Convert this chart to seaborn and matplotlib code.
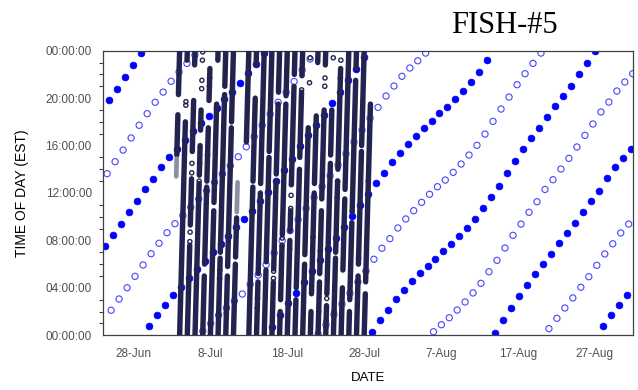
import pandas as pd
import matplotlib
matplotlib.use("Agg")
import matplotlib.pyplot as plt
import matplotlib.dates as mdates
from matplotlib.ticker import MultipleLocator, FuncFormatter
import seaborn as sns

START = pd.Timestamp("2005-06-24")

# High tides: day offset from START and time of day (hours, EST)
high_day = [0, 0, 1, 1, 2, 2, 3, 3, 4, 4, 5, 6, 6, 7, 7, 8, 8, 9, 9, 10, 10,
            11, 11, 12, 12, 13, 13, 14, 14, 15, 15, 16, 16, 17, 17, 18, 18,
            19, 19, 20, 20, 21, 22, 22, 23, 23, 24, 24, 25, 25, 26, 26, 27, 27,
            28, 28, 29, 29, 30, 30, 31, 31, 32, 32, 33, 33, 34, 35, 35, 36, 36,
            37, 37, 38, 38, 39, 39, 40, 40, 41, 41, 42, 42, 43, 43, 44, 44, 45,
            45, 46, 46, 47, 47, 48, 48, 49, 49, 50, 51, 51, 52, 52, 53, 53, 54,
            54, 55, 55, 56, 56, 57, 57, 58, 58, 59, 59, 60, 60, 61, 61, 62, 62,
            63, 63, 64, 65, 65, 66, 66, 67, 67, 68, 68]
high_hour = [7.53, 19.84, 8.46, 20.78, 9.41, 21.78, 10.40, 22.79, 11.35, 23.78,
             12.36, 0.76, 13.20, 1.69, 14.19, 2.58, 15.00, 3.40, 15.70, 4.10,
             16.50, 4.85, 17.25, 5.59, 17.88, 6.30, 18.50, 7.00, 19.20, 7.70,
             19.90, 8.40, 20.50, 9.10, 21.25, 9.78, 22.09, 10.50, 22.88, 11.30,
             23.78, 12.10, 0.73, 13.00, 1.71, 13.90, 2.70, 14.90, 3.60, 15.96,
             4.50, 16.90, 5.40, 17.73, 6.35, 18.60, 7.30, 19.56, 8.20, 20.54,
             9.16, 21.50, 10.06, 22.43, 11.00, 23.44, 11.90, 0.30, 12.82, 1.26,
             13.69, 2.16, 14.59, 3.04, 15.40, 3.82, 16.10, 4.58, 16.80, 5.23,
             17.45, 5.84, 18.09, 6.46, 18.71, 7.08, 19.27, 7.70, 19.92, 8.35,
             20.62, 9.05, 21.35, 9.81, 22.22, 10.71, 23.21, 11.64, 0.17, 12.61,
             1.26, 13.68, 2.30, 14.72, 3.31, 15.71, 4.27, 16.61, 5.14, 17.50,
             6.04, 18.41, 6.88, 19.31, 7.76, 20.18, 8.63, 21.05, 9.49, 22.01,
             10.42, 22.93, 11.32, 23.97, 12.19, 0.78, 13.29, 1.71, 14.17, 2.55,
             14.97, 3.37, 15.71]

# Low tides
low_day = [0, 1, 1, 2, 2, 3, 3, 4, 4, 5, 5, 6, 6, 7, 7, 8, 8, 9, 9, 10, 10,
           11, 11, 12, 13, 13, 14, 14, 15, 15, 16, 16, 17, 17, 18, 18, 19, 19,
           20, 20, 21, 21, 22, 22, 23, 23, 24, 24, 25, 25, 26, 26, 27, 28, 28,
           29, 29, 30, 30, 31, 31, 32, 32, 33, 33, 34, 34, 35, 35, 36, 36, 37,
           37, 38, 38, 39, 39, 40, 40, 41, 41, 42, 43, 43, 44, 44, 45, 45, 46,
           46, 47, 47, 48, 48, 49, 49, 50, 50, 51, 51, 52, 52, 53, 53, 54, 54,
           55, 55, 56, 56, 57, 58, 58, 59, 59, 60, 60, 61, 61, 62, 62, 63, 63,
           64, 64, 65, 65, 66, 66, 67, 67, 68, 68]
low_hour = [13.63, 2.11, 14.64, 3.06, 15.62, 4.01, 16.64, 4.97, 17.71, 5.93,
            18.69, 6.88, 19.65, 7.76, 20.51, 8.65, 21.42, 9.41, 22.20, 10.10,
            22.93, 10.80, 23.63, 11.50, 0.35, 12.20, 1.00, 12.90, 1.70, 13.60,
            2.30, 14.30, 2.90, 15.06, 3.48, 15.90, 4.30, 16.75, 5.08, 17.70,
            5.95, 18.66, 6.95, 19.65, 7.98, 20.49, 8.82, 21.40, 9.75, 22.37,
            10.70, 23.30, 11.64, 0.11, 12.55, 0.87, 13.45, 1.75, 14.35, 2.64,
            15.30, 3.55, 16.30, 4.50, 17.30, 5.42, 18.30, 6.41, 19.22, 7.34,
            20.18, 8.15, 21.02, 9.05, 21.84, 9.81, 22.54, 10.51, 23.15, 11.21,
            23.80, 11.89, 0.30, 12.53, 0.89, 13.09, 1.48, 13.74, 2.13, 14.44,
            2.81, 15.20, 3.57, 16.02, 4.38, 16.97, 5.36, 18.04, 6.32, 19.08,
            7.36, 20.09, 8.43, 21.13, 9.38, 22.06, 10.37, 22.93, 11.26, 23.80,
            12.30, 0.56, 13.12, 1.43, 14.02, 2.30, 14.92, 3.15, 15.88, 4.05,
            16.86, 4.94, 17.82, 5.90, 18.83, 6.86, 19.67, 7.72, 20.60, 8.63,
            21.36, 9.38, 22.06]

# Continuous detection bouts of the tagged fish: day, start hour, end hour
bout_day = [9, 9,
            10, 10,
            11, 11, 11, 11,
            12, 12, 12,
            13, 13, 13, 13,
            14, 14, 14,
            15, 15, 15,
            16, 16, 16,
            17, 17,
            18,
            19, 19, 19,
            20, 20, 20,
            21, 21, 21,
            22, 22, 22, 22,
            23, 23, 23, 23,
            24, 24, 24, 24,
            25, 25, 25, 25,
            26, 26,
            27, 27, 27, 27,
            28, 28, 28, 28,
            29, 29, 29,
            30, 30, 30,
            31, 31, 31,
            32, 32, 32, 32,
            33, 33, 33,
            34, 34]
bout_start = [15.2, 20.3,
              0.0, 23.2,
              0.0, 9.3, 15.5, 22.8,
              0.0, 13.5, 17.3,
              0.0, 6.0, 13.0, 19.8,
              0.0, 11.2, 23.2,
              0.0, 7.0, 21.0,
              0.0, 5.8, 18.0,
              0.0, 6.6,
              16.3,
              0.0, 13.0, 22.8,
              0.0, 5.2, 12.8,
              0.0, 6.2, 15.5,
              0.0, 5.6, 13.6, 20.5,
              0.0, 3.0, 8.5, 20.2,
              0.0, 8.8, 12.8, 22.0,
              0.0, 4.0, 15.0, 22.0,
              0.0, 6.8,
              0.0, 3.5, 12.8, 23.0,
              0.0, 5.2, 11.5, 22.8,
              0.0, 3.5, 15.2,
              0.0, 7.0, 14.0,
              0.0, 5.5, 12.3,
              0.0, 3.0, 10.5, 22.5,
              0.0, 6.0, 16.0,
              0.0, 4.5]
bout_end = [18.6, 24.0,
            18.0, 24.0,
            7.6, 13.2, 19.8, 24.0,
            12.8, 16.0, 19.0,
            5.0, 12.5, 17.5, 22.5,
            10.5, 19.5, 24.0,
            6.5, 20.3, 24.0,
            5.0, 17.5, 24.0,
            6.0, 9.9,
            24.0,
            12.5, 20.0, 24.0,
            4.5, 12.0, 24.0,
            5.5, 15.0, 24.0,
            4.5, 13.0, 19.5, 24.0,
            2.0, 7.5, 19.5, 24.0,
            8.0, 10.5, 21.0, 24.0,
            3.0, 14.0, 20.5, 24.0,
            6.0, 17.5,
            2.0, 12.0, 18.5, 24.0,
            4.5, 10.5, 19.0, 24.0,
            2.5, 14.5, 19.0,
            6.5, 13.0, 22.5,
            4.0, 11.5, 24.0,
            2.0, 9.5, 21.5, 24.0,
            5.0, 15.5, 24.0,
            3.5, 19.5]

# Single scattered detections of the tagged fish
ping_day = [12, 12, 12, 12, 13, 13, 11, 11, 12, 12, 11, 11, 15, 15, 22, 22,
            23, 23, 24, 24, 24, 26, 26, 29, 30, 30, 28, 28, 30, 30, 27, 28,
            29, 29, 30, 28, 33, 34, 33, 34, 32, 10, 10, 13, 16, 20, 20, 24,
            30, 25, 25]
ping_hour = [23.9, 23.2, 21.5, 20.8, 21.7, 21.0, 14.5, 13.7, 14.5, 13.0, 8.7,
             7.9, 5.5, 4.8, 5.4, 4.8, 8.2, 7.6, 12.7, 11.8, 10.7, 23.4, 21.3,
             23.4, 23.2, 21.7, 21.0, 21.7, 13.0, 11.6, 8.3, 7.1, 3.1, 1.2,
             2.0, 2.0, 6.5, 5.4, 4.5, 13.0, 10.4, 19.7, 19.4, 15.2, 1.9, 3.1,
             2.3, 7.3, 20.5, 21.9, 20.7]

# Detections logged by the second receiver
alt_day = [9, 17]
alt_start = [13.4, 10.4]
alt_end = [14.9, 12.9]


def stamp(day, hour):
    return START + pd.Timedelta(days=day) + pd.Timedelta(hours=hour)


highs = pd.DataFrame({"when": [stamp(d, h) for d, h in zip(high_day, high_hour)],
                      "tod": high_hour})
lows = pd.DataFrame({"when": [stamp(d, h) for d, h in zip(low_day, low_hour)],
                     "tod": low_hour})
pings = pd.DataFrame({"when": [stamp(d, h) for d, h in zip(ping_day, ping_hour)],
                      "tod": ping_hour})

sns.set_style("white")
plt.rcParams["font.family"] = ["Liberation Sans", "DejaVu Sans"]

fig = plt.figure(figsize=(6.38, 3.90), dpi=100)
ax = fig.add_axes([0.161, 0.1403, 0.8317, 0.7297])

NAVY = "#23234f"

sns.scatterplot(data=lows, x="when", y="tod", ax=ax, marker="o", s=20,
                facecolor="none", edgecolor="#4646ff", linewidth=0.8, zorder=2)
sns.scatterplot(data=highs, x="when", y="tod", ax=ax, marker="o", s=24,
                color="#0000ff", edgecolor="#0000ff", linewidth=0.5, zorder=2)

for d, h0, h1 in zip(bout_day, bout_start, bout_end):
    ax.plot([stamp(d, h0), stamp(d, h1)], [h0, h1], color=NAVY, lw=3.9,
            solid_capstyle="round", zorder=3)
for d, h0, h1 in zip(alt_day, alt_start, alt_end):
    ax.plot([stamp(d, h0), stamp(d, h1)], [h0, h1], color="#8e8ea6", lw=3.4,
            solid_capstyle="round", zorder=4)
sns.scatterplot(data=pings, x="when", y="tod", ax=ax, marker="o", s=9,
                facecolor="none", edgecolor=NAVY, linewidth=1.0, zorder=3)

ax.set_xlim(START, START + pd.Timedelta(days=69))
ax.set_ylim(0, 24)
ax.set_xlabel("")
ax.set_ylabel("")

ax.set_xticks([START + pd.Timedelta(days=4 + 10 * k) for k in range(7)])
ax.xaxis.set_major_formatter(mdates.DateFormatter("%-d-%b"))
ax.yaxis.set_major_locator(MultipleLocator(4))
ax.yaxis.set_minor_locator(MultipleLocator(1))
ax.yaxis.set_major_formatter(FuncFormatter(lambda v, p: f"{int(round(v)) % 24:02d}:00:00"))

ax.tick_params(axis="x", which="major", direction="out", length=3.6,
               width=0.9, color="#404040", labelcolor="#505050", labelsize=8.5,
               pad=5.3)
ax.tick_params(axis="y", which="major", direction="out", length=4.1,
               width=0.9, color="#404040", labelcolor="#505050", labelsize=8.5,
               pad=3.8)
ax.tick_params(axis="y", which="minor", direction="out", length=2.7,
               width=0.8, color="#404040", left=True)

for sp in ax.spines.values():
    sp.set_color("#404040")
    sp.set_linewidth(0.9)

ax.set_xlabel("DATE", fontsize=9.5, color="black", labelpad=9)
ax.set_ylabel("TIME OF DAY (EST)", fontsize=10, color="black", labelpad=12)

fig.text(0.791, 0.915, "FISH-#5", fontsize=22, family="Liberation Serif",
         ha="center", va="baseline", color="black")

fig.savefig("out.png", dpi=100)
